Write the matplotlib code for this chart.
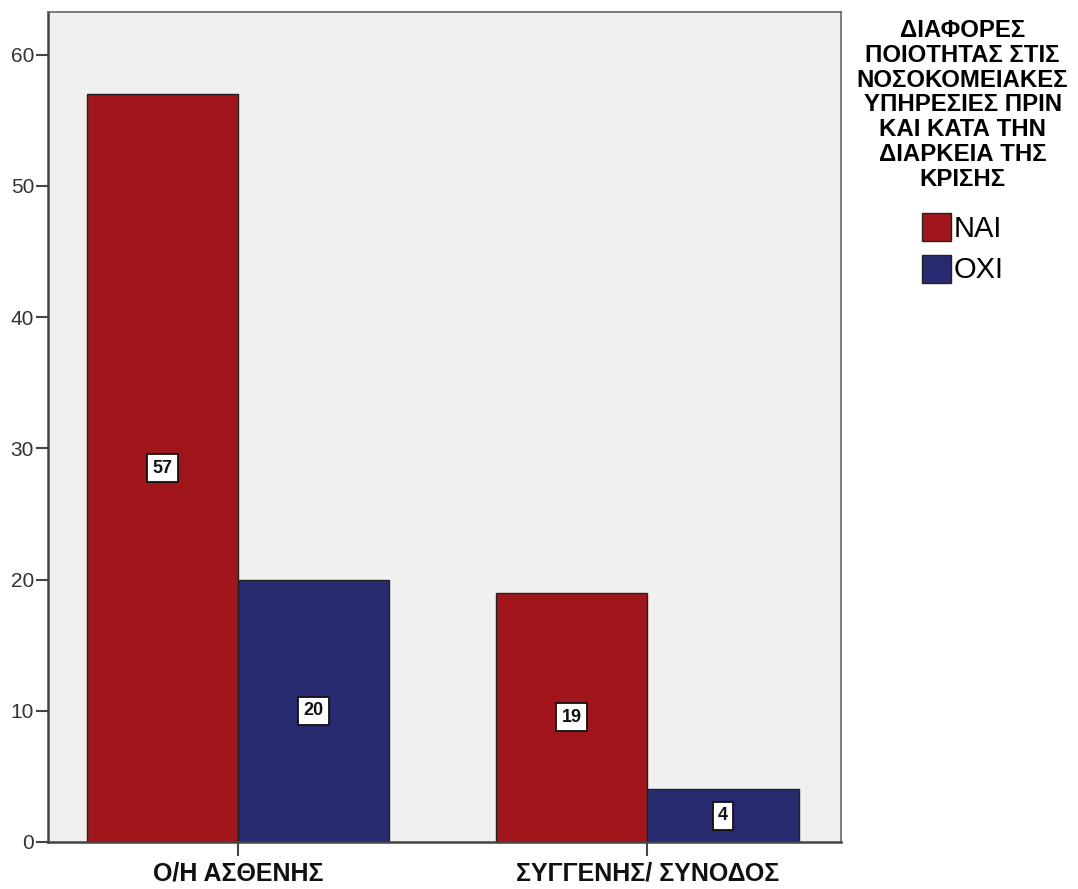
import matplotlib
matplotlib.use("Agg")
import matplotlib.pyplot as plt
from matplotlib.patches import Patch
import numpy as np

plt.rcParams['font.family'] = ['Liberation Sans', 'DejaVu Sans']

categories = ["Ο/Η ΑΣΘΕΝΗΣ", "ΣΥΓΓΕΝΗΣ/ ΣΥΝΟΔΟΣ"]
series_names = ["ΝΑΙ", "ΟΧΙ"]
nai_values = [57, 19]
oxi_values = [20, 4]
y_ticks = [0, 10, 20, 30, 40, 50, 60]
legend_title = "ΔΙΑΦΟΡΕΣ\nΠΟΙΟΤΗΤΑΣ ΣΤΙΣ\nΝΟΣΟΚΟΜΕΙΑΚΕΣ\nΥΠΗΡΕΣΙΕΣ ΠΡΙΝ\nΚΑΙ ΚΑΤΑ ΤΗΝ\nΔΙΑΡΚΕΙΑ ΤΗΣ\nΚΡΙΣΗΣ"

red = "#A0161A"
blue = "#272A6F"

fig = plt.figure(figsize=(10.78, 8.89), dpi=100)
ax = fig.add_axes([0.0445, 0.0529, 0.7356, 0.9336])
ax.set_facecolor("#F0F0F0")

x = np.arange(len(categories))
w = 0.369
bars_nai = ax.bar(x - w / 2, nai_values, w, color=red, edgecolor="#222222", linewidth=1.0)
bars_oxi = ax.bar(x + w / 2, oxi_values, w, color=blue, edgecolor="#222222", linewidth=1.0)

# value labels in white boxes at the middle of each bar
for bars, vals in ((bars_nai, nai_values), (bars_oxi, oxi_values)):
    for b, v in zip(bars, vals):
        ax.text(b.get_x() + b.get_width() / 2, v / 2, str(v), ha="center", va="center",
                fontsize=13, fontweight="bold", color="#111111",
                bbox=dict(boxstyle="square,pad=0.3", facecolor="white", edgecolor="#111111", linewidth=1.3))

ax.set_xlim(-0.464, 1.4725)
ax.set_ylim(0, 63.26)
ax.set_yticks(y_ticks)
ax.set_yticklabels([str(t) for t in y_ticks], fontsize=15, color="#333333")
ax.set_xticks(x)
ax.set_xticklabels(categories, fontsize=18, fontweight="bold", color="#111111")
ax.tick_params(axis="y", length=9, width=1.5, color="#444444", pad=1)
ax.tick_params(axis="x", length=10, width=1.5, color="#444444", pad=4)

for side in ("left", "bottom"):
    ax.spines[side].set_color("#444444")
    ax.spines[side].set_linewidth(1.8)
for side in ("top", "right"):
    ax.spines[side].set_color("#666666")
    ax.spines[side].set_linewidth(1.2)

handles = [Patch(facecolor=red, edgecolor="#222222", linewidth=1.0),
           Patch(facecolor=blue, edgecolor="#222222", linewidth=1.0)]
leg = fig.legend(handles, series_names, loc="upper center", bbox_to_anchor=(0.893, 1.0),
                 frameon=False, title=legend_title, fontsize=21,
                 title_fontproperties={"size": 17.3, "weight": "bold"},
                 handlelength=1.0, handleheight=1.1, handletextpad=0.1, labelspacing=0.4,
                 borderpad=0.15)
leg.get_title().set_multialignment("center")
leg.get_title().set_linespacing(1.1)
leg._legend_box.sep = 16

fig.savefig("out.png", dpi=100, facecolor="white")
